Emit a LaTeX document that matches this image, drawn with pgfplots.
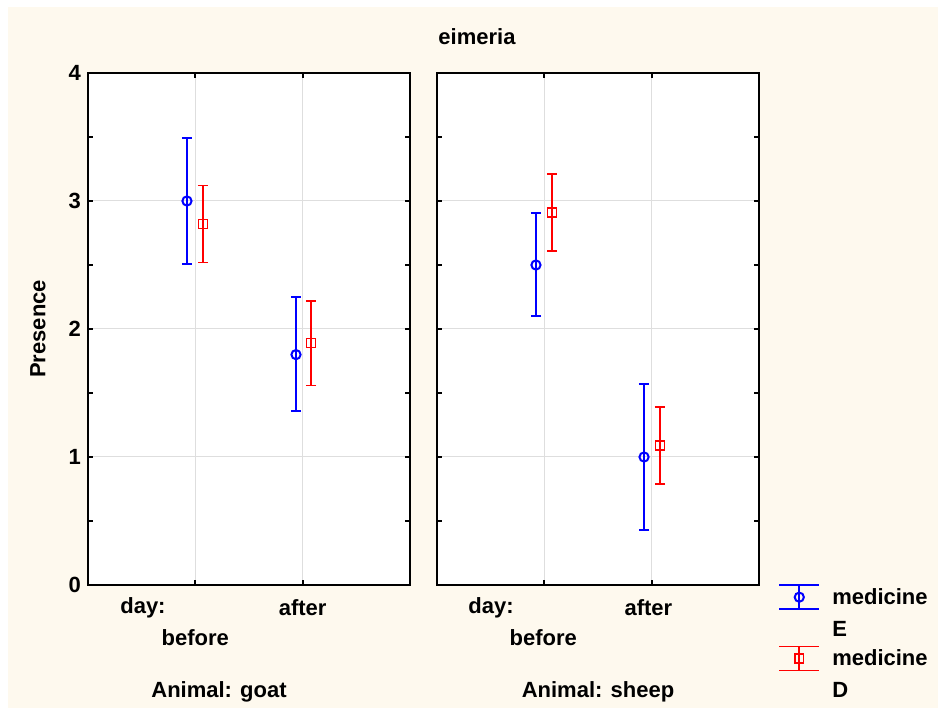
\documentclass[border=0pt]{standalone}
\usepackage{fontspec}
\setmainfont{Liberation Sans}
\usepackage{pgfplots}
\pgfplotsset{compat=1.18}

\definecolor{cream}{RGB}{254,249,238}
\definecolor{gridgray}{RGB}{222,222,222}
\definecolor{eblue}{RGB}{0,0,255}
\definecolor{dred}{RGB}{255,0,0}

\newcommand{\lbl}{\fontsize{11}{16}\selectfont\bfseries}

\pgfplotsset{
  panel/.style={
    scale only axis, width=161pt, height=256pt,
    xmin=0, xmax=3, ymin=0, ymax=4,
    xtick={1,2}, xticklabels={},
    ytick={0,1,2,3,4}, minor ytick={0.5,1.5,2.5,3.5},
    grid=major, major grid style={gridgray, line width=0.5pt},
    axis line style={line width=1pt},
    tick align=inside, major tick length=2.5pt, minor tick length=2.5pt,
    every tick/.style={black, line width=1pt},
    axis background/.style={fill=white},
    tick label style={font=\lbl},
    /pgf/number format/assume math mode=true,
    clip=false,
  },
  ebar/.style={eblue, line width=1pt, only marks, mark=o, mark size=2.3pt,
    mark options={solid, eblue, line width=1pt},
    error bars/y dir=both, error bars/y explicit,
    error bars/error bar style={eblue, line width=1pt},
    error bars/error mark options={eblue, rotate=90, mark size=2.6pt, line width=1pt}},
  dbar/.style={dred, line width=0.8pt, only marks, mark=square, mark size=2.2pt,
    mark options={solid, dred, line width=0.8pt},
    error bars/y dir=both, error bars/y explicit,
    error bars/error bar style={dred, line width=0.8pt},
    error bars/error mark options={dred, rotate=90, mark size=2.6pt, line width=0.8pt}},
}

\begin{document}
\begin{tikzpicture}
\fill[white] (-44pt,-61.5pt) rectangle (425pt,292.5pt);
\fill[cream] (-40pt,-61.5pt) rectangle (425pt,289pt);

% goat
\begin{axis}[panel, at={(0pt,0pt)}, anchor=south west,
  ylabel={Presence},
  every axis y label/.style={at={([xshift=-25pt]axis description cs:0,0.5)}, rotate=90, anchor=center, font=\lbl}]
\addplot[ebar] coordinates {
  (0.922,3.00) += (0,0.49) -= (0,0.49)
  (1.938,1.80) += (0,0.45) -= (0,0.44)
};
\addplot[dbar] coordinates {
  (1.071,2.82) += (0,0.30) -= (0,0.30)
  (2.078,1.89) += (0,0.33) -= (0,0.33)
};
\node[font=\lbl] at (axis cs:0.512,0) [yshift=-11.5pt] {day:};
\node[font=\lbl] at (axis cs:1,0) [yshift=-26.5pt] {before};
\node[font=\lbl] at (axis cs:2,0) [yshift=-11.5pt] {after};
\end{axis}

% sheep
\begin{axis}[panel, at={(174.5pt,0pt)}, anchor=south west, yticklabels={},
  legend style={draw=none, fill=none, at={(axis description cs:1.04,0.0102)},
    anchor=north west, cells={align=left}, font=\lbl, row sep=1pt, column sep=4pt},
  legend cell align=left]
\addplot[ebar, legend image code/.code={
    \draw[eblue, line width=1pt] (0pt,14.5pt) -- (20pt,14.5pt) (0pt,2.5pt) -- (20pt,2.5pt) (10pt,2.5pt) -- (10pt,14.5pt);
    \draw[eblue, line width=1pt, only marks, mark=o, mark size=2.3pt] plot coordinates {(10pt,8.5pt)};
  }] coordinates {
  (0.922,2.50) += (0,0.41) -= (0,0.40)
  (1.929,1.00) += (0,0.57) -= (0,0.57)
};
\addlegendentry{medicine\\E}
\addplot[dbar, legend image code/.code={
    \draw[dred, line width=0.8pt] (0pt,14.5pt) -- (20pt,14.5pt) (0pt,2.5pt) -- (20pt,2.5pt) (10pt,2.5pt) -- (10pt,14.5pt);
    \draw[dred, line width=0.8pt, only marks, mark=square, mark size=2.2pt] plot coordinates {(10pt,8.5pt)};
  }] coordinates {
  (1.071,2.91) += (0,0.30) -= (0,0.30)
  (2.078,1.09) += (0,0.30) -= (0,0.30)
};
\addlegendentry{medicine\\D}
\node[font=\lbl] at (axis cs:0.503,0) [yshift=-11.5pt] {day:};
\node[font=\lbl] at (axis cs:0.99,0) [yshift=-26.5pt] {before};
\node[font=\lbl] at (axis cs:1.97,0) [yshift=-11.5pt] {after};
\end{axis}

\node[font=\lbl] at (194.5pt,274pt) {eimeria};
\node[font=\lbl] at (65.5pt,-53.5pt) {Animal: goat};
\node[font=\lbl] at (255pt,-53.5pt) {Animal: sheep};
\end{tikzpicture}
\end{document}
